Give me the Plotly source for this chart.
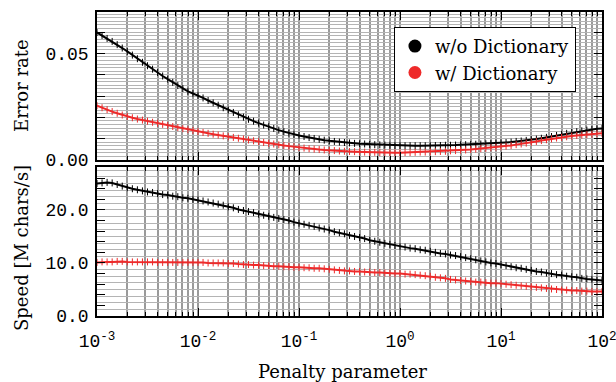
import plotly.graph_objects as go

# ---------------- data ----------------
penalty = [
    1.000e-3, 1.122e-3, 1.259e-3, 1.413e-3, 1.585e-3, 1.778e-3, 1.995e-3, 2.239e-3, 2.512e-3, 2.818e-3,
    3.162e-3, 3.548e-3, 3.981e-3, 4.467e-3, 5.012e-3, 5.623e-3, 6.310e-3, 7.079e-3, 7.943e-3, 8.913e-3,
    1.000e-2, 1.122e-2, 1.259e-2, 1.413e-2, 1.585e-2, 1.778e-2, 1.995e-2, 2.239e-2, 2.512e-2, 2.818e-2,
    3.162e-2, 3.548e-2, 3.981e-2, 4.467e-2, 5.012e-2, 5.623e-2, 6.310e-2, 7.079e-2, 7.943e-2, 8.913e-2,
    1.000e-1, 1.122e-1, 1.259e-1, 1.413e-1, 1.585e-1, 1.778e-1, 1.995e-1, 2.239e-1, 2.512e-1, 2.818e-1,
    3.162e-1, 3.548e-1, 3.981e-1, 4.467e-1, 5.012e-1, 5.623e-1, 6.310e-1, 7.079e-1, 7.943e-1, 8.913e-1,
    1.000e0, 1.122e0, 1.259e0, 1.413e0, 1.585e0, 1.778e0, 1.995e0, 2.239e0, 2.512e0, 2.818e0,
    3.162e0, 3.548e0, 3.981e0, 4.467e0, 5.012e0, 5.623e0, 6.310e0, 7.079e0, 7.943e0, 8.913e0,
    1.000e1, 1.122e1, 1.259e1, 1.413e1, 1.585e1, 1.778e1, 1.995e1, 2.239e1, 2.512e1, 2.818e1,
    3.162e1, 3.548e1, 3.981e1, 4.467e1, 5.012e1, 5.623e1, 6.310e1, 7.079e1, 7.943e1, 8.913e1,
    1.000e2,
]

error_without_dict = [
    0.0598, 0.0584, 0.0570, 0.0556, 0.0541, 0.0525, 0.0509, 0.0492, 0.0475, 0.0458,
    0.0442, 0.0426, 0.0410, 0.0394, 0.0379, 0.0364, 0.0349, 0.0335, 0.0322, 0.0312,
    0.0303, 0.0291, 0.0279, 0.0268, 0.0257, 0.0245, 0.0234, 0.0223, 0.0212, 0.0201,
    0.0191, 0.0182, 0.0173, 0.0164, 0.0156, 0.0148, 0.0140, 0.0133, 0.0126, 0.0120,
    0.0115, 0.0110, 0.0105, 0.0101, 0.0097, 0.0093, 0.0090, 0.0087, 0.0084, 0.0082,
    0.0080, 0.0078, 0.0076, 0.0075, 0.0073, 0.0072, 0.0071, 0.0070, 0.0069, 0.0068,
    0.0068, 0.0067, 0.0067, 0.0067, 0.0067, 0.0067, 0.0067, 0.0068, 0.0068, 0.0069,
    0.0069, 0.0070, 0.0071, 0.0072, 0.0073, 0.0074, 0.0075, 0.0076, 0.0077, 0.0079,
    0.0080, 0.0082, 0.0084, 0.0087, 0.0089, 0.0092, 0.0095, 0.0098, 0.0102, 0.0106,
    0.0110, 0.0115, 0.0120, 0.0125, 0.0129, 0.0133, 0.0137, 0.0140, 0.0143, 0.0146,
    0.0148,
]

error_with_dict = [
    0.0255, 0.0245, 0.0236, 0.0227, 0.0219, 0.0211, 0.0204, 0.0198, 0.0192, 0.0187,
    0.0182, 0.0177, 0.0172, 0.0167, 0.0162, 0.0157, 0.0152, 0.0147, 0.0142, 0.0138,
    0.0133, 0.0129, 0.0125, 0.0121, 0.0117, 0.0113, 0.0109, 0.0106, 0.0102, 0.0098,
    0.0094, 0.0090, 0.0086, 0.0082, 0.0078, 0.0075, 0.0071, 0.0068, 0.0065, 0.0062,
    0.0058, 0.0056, 0.0053, 0.0051, 0.0049, 0.0047, 0.0045, 0.0044, 0.0042, 0.0041,
    0.0040, 0.0039, 0.0038, 0.0037, 0.0036, 0.0036, 0.0035, 0.0035, 0.0035, 0.0034,
    0.0034, 0.0035, 0.0035, 0.0036, 0.0037, 0.0037, 0.0038, 0.0039, 0.0040, 0.0041,
    0.0043, 0.0044, 0.0046, 0.0047, 0.0049, 0.0051, 0.0053, 0.0055, 0.0057, 0.0060,
    0.0062, 0.0065, 0.0068, 0.0072, 0.0075, 0.0079, 0.0083, 0.0087, 0.0091, 0.0095,
    0.0099, 0.0103, 0.0106, 0.0109, 0.0112, 0.0115, 0.0117, 0.0119, 0.0121, 0.0123,
    0.0125,
]

speed_without_dict = [
    25.0, 25.1, 25.2, 25.1, 24.8, 24.5, 24.2, 24.0, 23.8, 23.6,
    23.4, 23.3, 23.1, 22.9, 22.8, 22.6, 22.5, 22.3, 22.2, 22.0,
    21.9, 21.7, 21.5, 21.3, 21.1, 20.9, 20.6, 20.4, 20.1, 19.9,
    19.7, 19.5, 19.2, 19.0, 18.8, 18.6, 18.4, 18.2, 18.0, 17.7,
    17.5, 17.3, 17.1, 16.9, 16.6, 16.4, 16.2, 15.9, 15.7, 15.5,
    15.2, 15.0, 14.8, 14.6, 14.3, 14.1, 13.9, 13.7, 13.5, 13.3,
    13.1, 13.0, 12.8, 12.7, 12.5, 12.4, 12.2, 12.0, 11.8, 11.7,
    11.5, 11.4, 11.2, 11.0, 10.8, 10.6, 10.4, 10.2, 10.0, 9.9,
    9.7, 9.5, 9.3, 9.1, 9.0, 8.8, 8.6, 8.4, 8.3, 8.1,
    8.0, 7.8, 7.7, 7.5, 7.4, 7.3, 7.1, 7.0, 6.9, 6.8,
    6.7,
]

speed_with_dict = [
    10.1, 10.2, 10.2, 10.2, 10.3, 10.3, 10.2, 10.2, 10.2, 10.2,
    10.2, 10.2, 10.1, 10.1, 10.1, 10.1, 10.1, 10.1, 10.1, 10.1,
    10.1, 10.1, 10.0, 10.0, 10.0, 10.0, 9.9, 9.9, 9.8, 9.7,
    9.7, 9.6, 9.6, 9.5, 9.5, 9.4, 9.4, 9.3, 9.3, 9.2,
    9.2, 9.1, 9.1, 9.0, 9.0, 8.9, 8.8, 8.7, 8.6, 8.5,
    8.5, 8.4, 8.4, 8.3, 8.3, 8.2, 8.2, 8.1, 8.1, 8.0,
    8.0, 7.9, 7.9, 7.8, 7.7, 7.6, 7.5, 7.3, 7.2, 7.1,
    6.9, 6.8, 6.7, 6.6, 6.5, 6.4, 6.4, 6.3, 6.2, 6.2,
    6.1, 6.0, 5.9, 5.8, 5.7, 5.6, 5.5, 5.4, 5.3, 5.2,
    5.1, 5.0, 4.9, 4.9, 4.8, 4.8, 4.7, 4.7, 4.6, 4.6,
    4.6,
]

series_names = ["w/o Dictionary", "w/ Dictionary"]

x_tick_vals = [1e-3, 1e-2, 1e-1, 1e0, 1e1, 1e2]
x_tick_text = ["10<sup>-3</sup>", "10<sup>-2</sup>", "10<sup>-1</sup>",
               "10<sup>0</sup>", "10<sup>1</sup>", "10<sup>2</sup>"]

err_tick_vals = [0.00, 0.01, 0.02, 0.03, 0.04, 0.05, 0.06]
err_tick_text = ["0.00", "", "", "", "", "0.05", ""]

speed_tick_vals = [0, 2, 4, 6, 8, 10, 12, 14, 16, 18, 20, 22, 24, 26, 28]
speed_tick_text = ["0.0", "", "", "", "", "10.0", "", "", "", "", "20.0", "", "", "", ""]

# ---------------- style ----------------
BLACK = "#000000"
RED = "#ee2a2a"
TICK_FONT = dict(family="Liberation Mono", size=18, color="black")
SERIF = "DejaVu Serif"
ERR_RANGE = [0, 0.0694]
SPEED_RANGE = [0, 28.1]

fig = go.Figure()

def band(x, y, color, xa, ya):
    return go.Scatter(
        x=x, y=y, mode="lines+markers", xaxis=xa, yaxis=ya, showlegend=False,
        line=dict(color=color, width=2),
        marker=dict(symbol="line-ns", size=5, color=color,
                    line=dict(color=color, width=1)),
        hoverinfo="skip",
    )

fig.add_trace(band(penalty, error_without_dict, BLACK, "x2", "y"))
fig.add_trace(band(penalty, error_with_dict, RED, "x2", "y"))
fig.add_trace(band(penalty, speed_without_dict, BLACK, "x", "y2"))
fig.add_trace(band(penalty, speed_with_dict, RED, "x", "y2"))

# legend entries (round markers, as in the reference legend)
for name, col in [(series_names[0], BLACK), (series_names[1], RED)]:
    fig.add_trace(go.Scatter(x=[None], y=[None], mode="markers", name=name,
                             xaxis="x2", yaxis="y3",
                             marker=dict(symbol="circle", size=13, color=col)))
fig.add_trace(go.Scatter(x=[None], y=[None], mode="markers", xaxis="x", yaxis="y4",
                         showlegend=False, marker=dict(color=BLACK)))

xcommon = dict(
    type="log", range=[-3, 2],
    showline=True, linecolor="black", linewidth=1.5, mirror="ticks",
    ticks="inside", ticklen=8, tickwidth=1.2, tickcolor="black",
    tickmode="array", tickvals=x_tick_vals, ticktext=x_tick_text,
    showgrid=True, gridcolor="#9a9a9a", gridwidth=1.5,
    minor=dict(dtick="D1", ticks="inside", ticklen=4, tickwidth=1, tickcolor="black",
               showgrid=True, gridcolor="#9a9a9a", gridwidth=1.5),
    zeroline=False, tickfont=TICK_FONT, ticklabeloverflow="allow", automargin=False,
)

# base y axes: frame, ticks, labels (mirrored on the right)
ymain_common = dict(showline=True, linecolor="black", linewidth=1.5, mirror="ticks",
                    ticks="inside", ticklen=8, tickwidth=1.2, tickcolor="black",
                    showgrid=False, zeroline=False, tickfont=TICK_FONT, tickmode="array",
                    ticklabelstandoff=3, automargin=False)
# overlay y axes: only the dense horizontal grid
ygrid_common = dict(showticklabels=False, ticks="", showgrid=True, gridcolor="#b4b4b4",
                    gridwidth=1, zeroline=False, showline=False, side="left",
                    automargin=False)

fig.update_layout(
    width=616, height=382,
    margin=dict(l=97, r=14, t=12, b=66, autoexpand=False),
    paper_bgcolor="white", plot_bgcolor="white",
    xaxis=dict(anchor="y2", domain=[0, 1], showticklabels=True, ticklabelstandoff=8, **xcommon),
    xaxis2=dict(anchor="y", domain=[0, 1], matches="x", showticklabels=False, **xcommon),
    yaxis=dict(anchor="x2", domain=[0.5132, 1], range=ERR_RANGE,
               tickvals=err_tick_vals, ticktext=err_tick_text, **ymain_common),
    yaxis2=dict(anchor="x", domain=[0, 0.4901], range=SPEED_RANGE,
                tickvals=speed_tick_vals, ticktext=speed_tick_text, **ymain_common),
    yaxis3=dict(overlaying="y", anchor="x2", range=ERR_RANGE, tick0=0, dtick=0.01 / 6,
                **ygrid_common),
    yaxis4=dict(overlaying="y2", anchor="x", range=SPEED_RANGE, tick0=0, dtick=1.25,
                **ygrid_common),
    legend=dict(x=0.588, y=0.951, xanchor="left", yanchor="top",
                bgcolor="white", bordercolor="black", borderwidth=1,
                font=dict(family=SERIF, size=18, color="black"),
                itemwidth=30, tracegroupgap=0),
    annotations=[
        dict(text="Error rate", xref="paper", yref="paper", x=-0.1485, y=0.7566,
             textangle=-90, showarrow=False, xanchor="center", yanchor="middle",
             font=dict(family=SERIF, size=18, color="black")),
        dict(text="Speed [M chars/s]", xref="paper", yref="paper", x=-0.1485, y=0.2237,
             textangle=-90, showarrow=False, xanchor="center", yanchor="middle",
             font=dict(family=SERIF, size=18, color="black")),
        dict(text="Penalty parameter", xref="paper", yref="paper", x=0.487, y=-0.184,
             showarrow=False, xanchor="center", yanchor="middle",
             font=dict(family=SERIF, size=18, color="black")),
    ],
)

# remove the default page margin so the figure sits at the window's top-left corner
fig.write_html(
    "out.html",
    config={"displayModeBar": False},
    post_script="document.body.style.margin='0';document.body.style.overflow='hidden';",
)
